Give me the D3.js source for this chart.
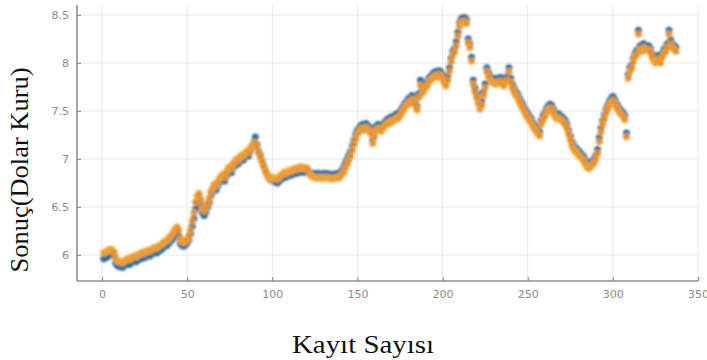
<!DOCTYPE html>
<html>
<head>
<meta charset="utf-8">
<script src="https://cdn.jsdelivr.net/npm/d3@7"></script>
<style>
  html, body { margin: 0; padding: 0; background: #fff; }
  svg { display: block; }
</style>
</head>
<body>
<svg id="chart" width="707" height="360"></svg>
<script>
// Observed exchange rate (blue) and model output (orange), one value per record
const observed = [
  5.96, 5.97, 5.98, 6.01, 6.03, 6.02, 5.99, 5.92, 5.89, 5.88,
  5.88, 5.87, 5.89, 5.90, 5.91, 5.90, 5.92, 5.93, 5.94, 5.93,
  5.95, 5.96, 5.96, 5.98, 5.97, 5.99, 6.00, 5.99, 6.01, 6.02,
  6.03, 6.02, 6.04, 6.05, 6.06, 6.08, 6.09, 6.10, 6.12, 6.14,
  6.16, 6.18, 6.22, 6.24, 6.20, 6.12, 6.10, 6.09, 6.11, 6.13,
  6.16, 6.22, 6.30, 6.38, 6.48, 6.56, 6.60, 6.52, 6.44, 6.41,
  6.45, 6.50, 6.55, 6.62, 6.66, 6.70, 6.68, 6.72, 6.76, 6.78,
  6.80, 6.77, 6.82, 6.86, 6.88, 6.86, 6.91, 6.93, 6.96, 6.95,
  6.98, 7.00, 6.99, 7.02, 7.04, 7.03, 7.08, 7.12, 7.17, 7.23,
  7.15, 7.08, 7.04, 6.98, 6.93, 6.88, 6.84, 6.80, 6.78, 6.79,
  6.77, 6.76, 6.75, 6.77, 6.79, 6.80, 6.82, 6.81, 6.83, 6.84,
  6.83, 6.85, 6.86, 6.85, 6.87, 6.86, 6.88, 6.87, 6.86, 6.88,
  6.87, 6.86, 6.85, 6.84, 6.85, 6.84, 6.85, 6.84, 6.84, 6.85,
  6.84, 6.85, 6.84, 6.84, 6.83, 6.84, 6.84, 6.85, 6.84, 6.86,
  6.88, 6.92, 6.96, 7.00, 7.04, 7.08, 7.14, 7.20, 7.26, 7.30,
  7.32, 7.35, 7.36, 7.34, 7.37, 7.35, 7.33, 7.30, 7.20, 7.28,
  7.34, 7.36, 7.35, 7.33, 7.36, 7.38, 7.40, 7.42, 7.41, 7.44,
  7.43, 7.45, 7.47, 7.46, 7.49, 7.52, 7.55, 7.58, 7.60, 7.63,
  7.62, 7.66, 7.64, 7.60, 7.55, 7.68, 7.82, 7.72, 7.75, 7.78,
  7.80, 7.84, 7.86, 7.88, 7.90, 7.91, 7.89, 7.92, 7.90, 7.87,
  7.84, 7.80, 7.86, 7.95, 8.05, 8.12, 8.15, 8.22, 8.32, 8.42,
  8.46, 8.47, 8.47, 8.45, 8.25, 8.20, 8.06, 7.82, 7.74, 7.68,
  7.62, 7.56, 7.60, 7.70, 7.78, 7.95, 7.90, 7.86, 7.84, 7.83,
  7.82, 7.84, 7.83, 7.85, 7.82, 7.80, 7.84, 7.86, 7.95, 7.84,
  7.78, 7.74, 7.70, 7.68, 7.64, 7.60, 7.57, 7.53, 7.50, 7.47,
  7.44, 7.42, 7.38, 7.35, 7.33, 7.30, 7.28, 7.40, 7.45, 7.48,
  7.52, 7.55, 7.57, 7.56, 7.52, 7.48, 7.46, 7.47, 7.45, 7.44,
  7.42, 7.40, 7.36, 7.30, 7.24, 7.18, 7.14, 7.12, 7.10, 7.08,
  7.06, 7.04, 7.02, 6.98, 6.95, 6.94, 6.96, 6.98, 7.00, 7.04,
  7.10, 7.22, 7.32, 7.40, 7.46, 7.52, 7.56, 7.60, 7.63, 7.65,
  7.62, 7.58, 7.55, 7.52, 7.50, 7.48, 7.45, 7.27, 7.88, 7.95,
  7.98, 8.05, 8.10, 8.13, 8.34, 8.18, 8.16, 8.20, 8.18, 8.17,
  8.18, 8.15, 8.10, 8.06, 8.04, 8.05, 8.08, 8.04, 8.10, 8.14,
  8.16, 8.20, 8.34, 8.24, 8.20, 8.18, 8.16
];

const predicted = [
  6.02, 6.03, 6.04, 6.05, 6.06, 6.05, 6.03, 5.97, 5.94, 5.93,
  5.93, 5.92, 5.94, 5.95, 5.96, 5.95, 5.97, 5.98, 5.99, 5.98,
  6.00, 6.01, 6.01, 6.03, 6.02, 6.04, 6.05, 6.04, 6.06, 6.07,
  6.08, 6.07, 6.09, 6.10, 6.11, 6.13, 6.14, 6.15, 6.17, 6.19,
  6.21, 6.24, 6.27, 6.29, 6.26, 6.17, 6.14, 6.13, 6.15, 6.16,
  6.20, 6.26, 6.35, 6.44, 6.55, 6.62, 6.64, 6.58, 6.50, 6.46,
  6.49, 6.54, 6.59, 6.66, 6.70, 6.74, 6.72, 6.76, 6.80, 6.82,
  6.84, 6.81, 6.86, 6.90, 6.92, 6.90, 6.95, 6.97, 7.00, 6.99,
  7.02, 7.04, 7.03, 7.06, 7.08, 7.07, 7.11, 7.14, 7.15, 7.17,
  7.12, 7.06, 7.02, 6.97, 6.92, 6.87, 6.83, 6.80, 6.79, 6.81,
  6.80, 6.80, 6.79, 6.81, 6.83, 6.84, 6.86, 6.85, 6.87, 6.88,
  6.87, 6.89, 6.90, 6.89, 6.91, 6.90, 6.92, 6.91, 6.90, 6.91,
  6.89, 6.84, 6.82, 6.81, 6.81, 6.80, 6.81, 6.80, 6.80, 6.81,
  6.80, 6.81, 6.80, 6.80, 6.79, 6.80, 6.80, 6.81, 6.80, 6.82,
  6.84, 6.87, 6.91, 6.95, 6.99, 7.03, 7.09, 7.15, 7.21, 7.26,
  7.28, 7.31, 7.32, 7.30, 7.33, 7.31, 7.29, 7.26, 7.16, 7.23,
  7.30, 7.32, 7.31, 7.29, 7.32, 7.34, 7.36, 7.38, 7.37, 7.40,
  7.39, 7.41, 7.43, 7.42, 7.45, 7.48, 7.51, 7.54, 7.56, 7.59,
  7.58, 7.62, 7.60, 7.56, 7.51, 7.64, 7.77, 7.68, 7.71, 7.74,
  7.76, 7.80, 7.82, 7.84, 7.86, 7.87, 7.85, 7.88, 7.86, 7.83,
  7.80, 7.76, 7.82, 7.91, 8.01, 8.08, 8.11, 8.18, 8.28, 8.38,
  8.42, 8.43, 8.43, 8.41, 8.21, 8.16, 8.02, 7.78, 7.70, 7.64,
  7.58, 7.52, 7.56, 7.66, 7.74, 7.91, 7.86, 7.82, 7.80, 7.79,
  7.78, 7.80, 7.79, 7.81, 7.78, 7.76, 7.80, 7.82, 7.91, 7.80,
  7.74, 7.70, 7.66, 7.64, 7.60, 7.56, 7.53, 7.49, 7.46, 7.43,
  7.40, 7.38, 7.34, 7.31, 7.29, 7.26, 7.24, 7.36, 7.41, 7.44,
  7.48, 7.51, 7.53, 7.52, 7.48, 7.44, 7.42, 7.43, 7.41, 7.40,
  7.38, 7.36, 7.32, 7.26, 7.20, 7.14, 7.10, 7.08, 7.06, 7.04,
  7.02, 7.00, 6.98, 6.94, 6.91, 6.90, 6.92, 6.94, 6.96, 7.00,
  7.06, 7.18, 7.28, 7.36, 7.42, 7.48, 7.52, 7.56, 7.59, 7.61,
  7.58, 7.54, 7.51, 7.48, 7.46, 7.44, 7.41, 7.23, 7.84, 7.91,
  7.94, 8.01, 8.06, 8.09, 8.30, 8.14, 8.12, 8.16, 8.14, 8.13,
  8.14, 8.11, 8.06, 8.02, 8.00, 8.01, 8.04, 8.00, 8.06, 8.10,
  8.12, 8.16, 8.30, 8.20, 8.16, 8.14, 8.12
];

const xTicks = [0, 50, 100, 150, 200, 250, 300, 350];
const yTicks = [6, 6.5, 7, 7.5, 8, 8.5];
const xTitle = "Kayıt Sayısı";
const yTitle = "Sonuç(Dolar Kuru)";

const svg = d3.select("#chart");
const plot = { left: 77, right: 698, top: 5, bottom: 281 };

const x = d3.scaleLinear().domain([-14.7, 350]).range([plot.left, plot.right]);
const y = d3.scaleLinear().domain([5.729, 8.604]).range([plot.bottom, plot.top]);

// soft edge on the markers
const defs = svg.append("defs");
defs.append("filter").attr("id", "soft")
  .attr("x", "-5%").attr("y", "-5%").attr("width", "110%").attr("height", "110%")
  .append("feGaussianBlur").attr("stdDeviation", 0.9);

// grid
const grid = svg.append("g").attr("stroke", "#e8e8e8").attr("stroke-width", 1);
grid.selectAll(".gx").data(xTicks).join("line")
  .attr("x1", d => x(d)).attr("x2", d => x(d))
  .attr("y1", plot.top).attr("y2", plot.bottom);
grid.selectAll(".gy").data(yTicks).join("line")
  .attr("x1", plot.left).attr("x2", plot.right)
  .attr("y1", d => y(d)).attr("y2", d => y(d));

// axes
const xAxis = d3.axisBottom(x).tickValues(xTicks).tickSizeInner(-4).tickSizeOuter(0).tickPadding(9);
const yAxis = d3.axisLeft(y).tickValues(yTicks).tickSizeInner(-4).tickSizeOuter(0).tickPadding(8)
  .tickFormat(d => String(d));

const gx = svg.append("g").attr("transform", `translate(0,${plot.bottom})`).call(xAxis);
const gy = svg.append("g").attr("transform", `translate(${plot.left},0)`).call(yAxis);

[gx, gy].forEach(g => {
  g.select(".domain").attr("stroke", "#8f8f8f").attr("stroke-width", 1.6);
  g.selectAll(".tick line").attr("stroke", "#8f8f8f").attr("stroke-width", 1.2);
  g.selectAll(".tick text")
    .attr("fill", "#8a8a8a")
    .style("font-family", "'DejaVu Sans', sans-serif")
    .style("font-size", "11px");
});
gy.select(".domain").attr("d", `M0,${plot.top}V${plot.bottom}`);
gx.select(".domain").attr("d", `M${plot.left},0H${plot.right}`);

// markers
const marks = svg.append("g").attr("filter", "url(#soft)");
marks.selectAll(".obs").data(observed).join("circle")
  .attr("cx", (d, i) => x(i + 1))
  .attr("cy", d => y(d))
  .attr("r", 3.5)
  .attr("fill", "#2d6d9c");
marks.selectAll(".pred").data(predicted).join("circle")
  .attr("cx", (d, i) => x(i + 1))
  .attr("cy", d => y(d))
  .attr("r", 3.3)
  .attr("fill", "#e9862a")
  .attr("stroke", "#f1b540")
  .attr("stroke-width", 0.9)
  .attr("fill-opacity", 0.9);

// titles
svg.append("text")
  .attr("x", 363).attr("y", 353)
  .attr("text-anchor", "middle")
  .attr("textLength", 142).attr("lengthAdjust", "spacingAndGlyphs")
  .style("font-family", "'Liberation Serif', 'Times New Roman', serif")
  .style("font-size", "25px")
  .attr("fill", "#111")
  .text(xTitle);

svg.append("text")
  .attr("transform", "translate(28,170) rotate(-90)")
  .attr("text-anchor", "middle")
  .attr("textLength", 205).attr("lengthAdjust", "spacingAndGlyphs")
  .style("font-family", "'Liberation Serif', 'Times New Roman', serif")
  .style("font-size", "26px")
  .attr("fill", "#111")
  .text(yTitle);
</script>
</body>
</html>
